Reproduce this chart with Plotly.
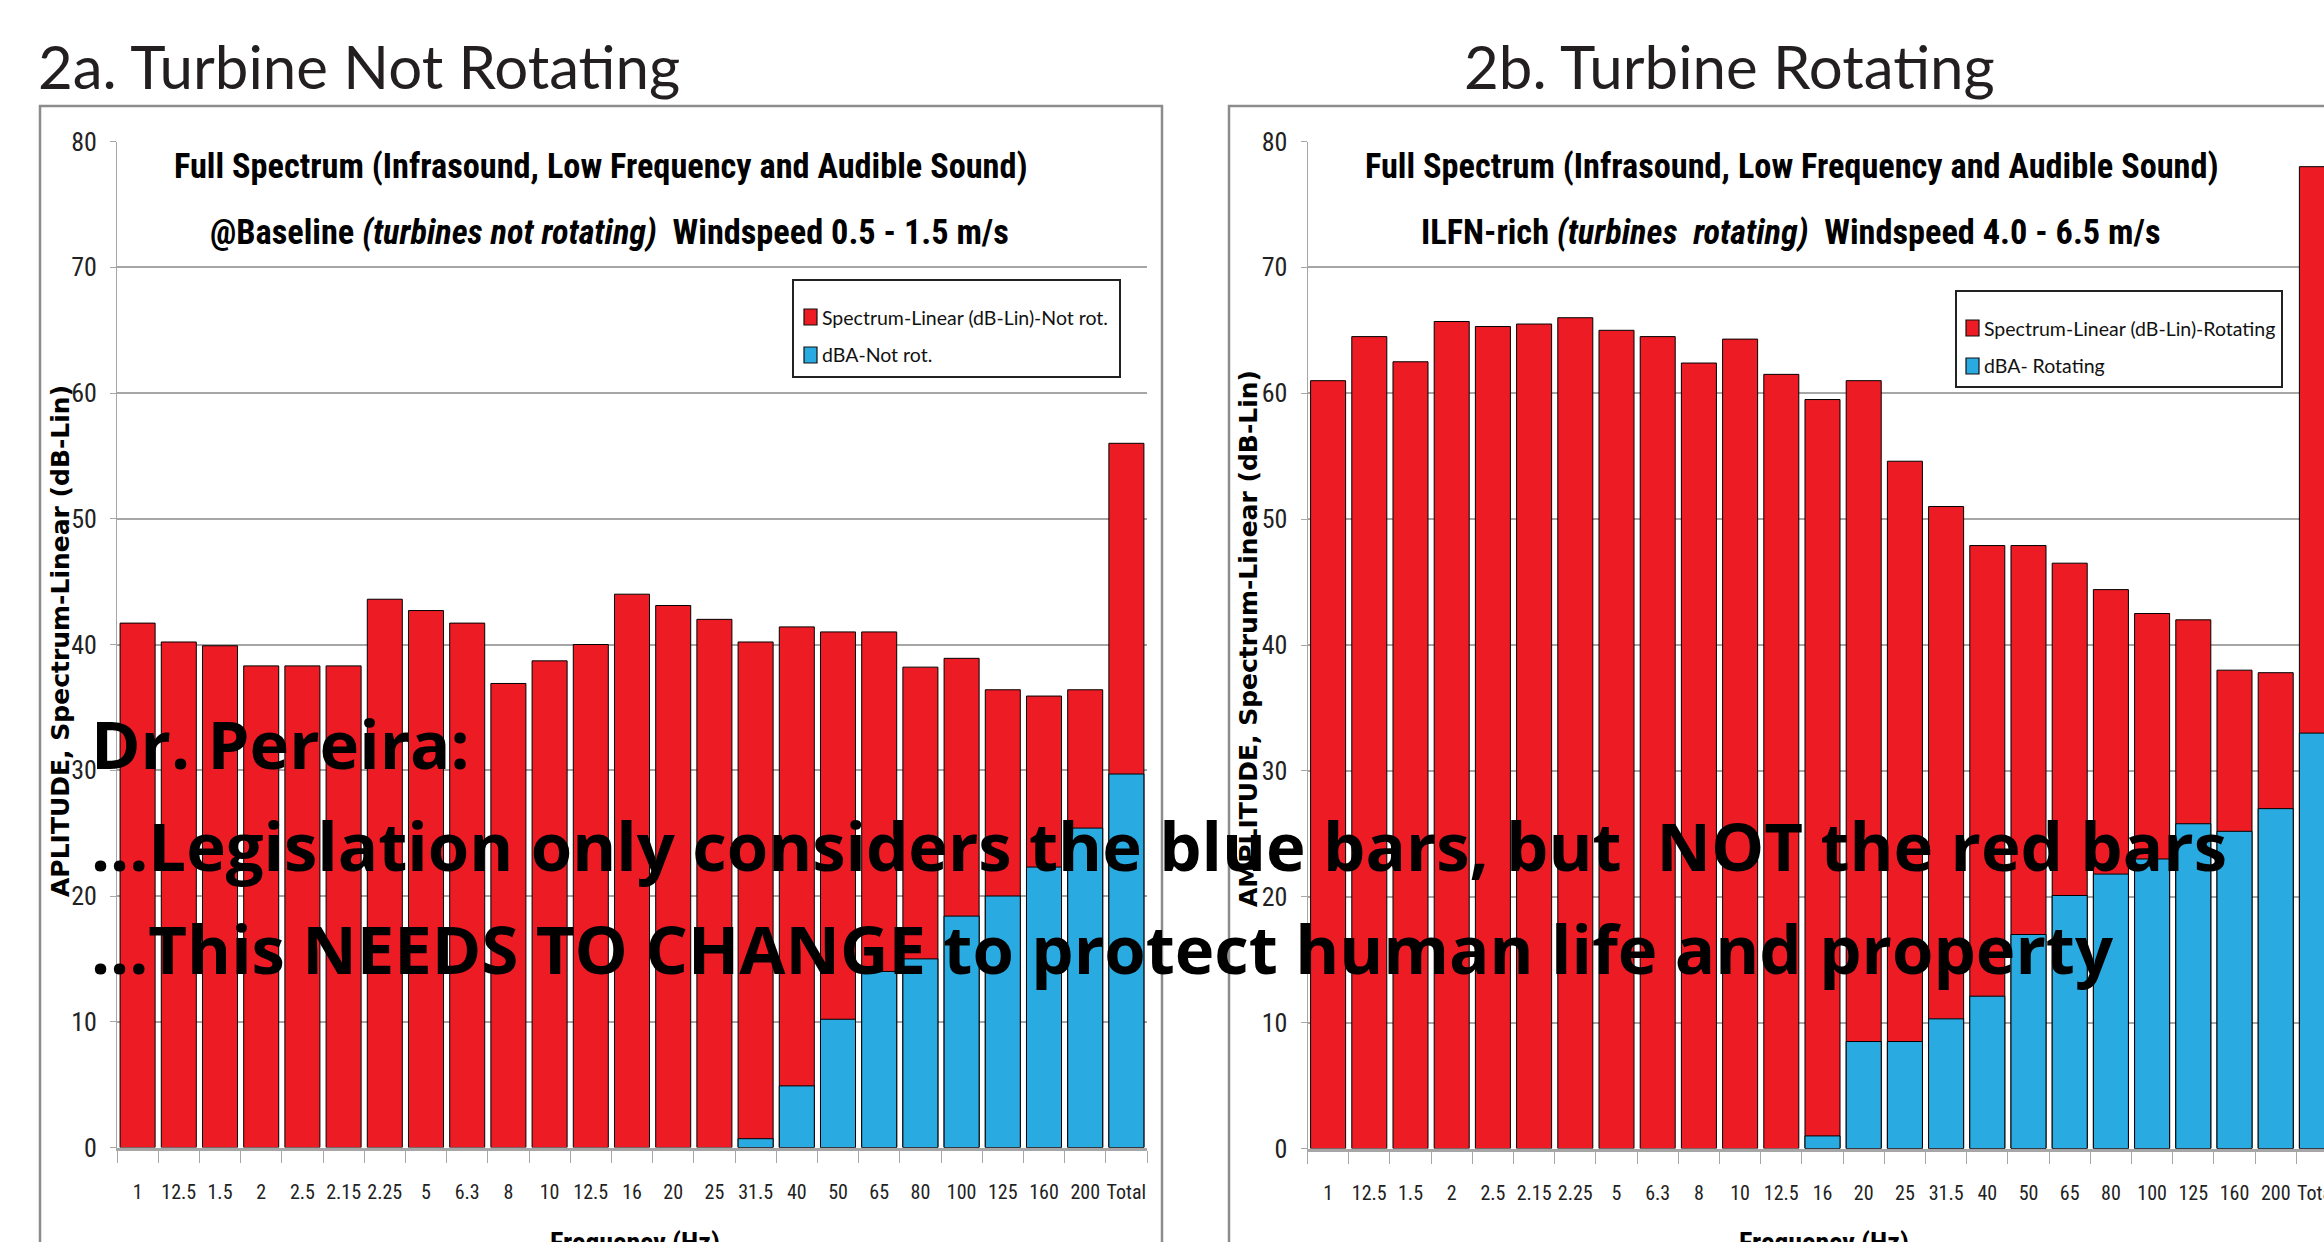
import plotly.graph_objects as go

W, H = 2324, 1242

# ---------------- data ----------------
freq_labels = ["1", "12.5", "1.5", "2", "2.5", "2.15", "2.25", "5", "6.3", "8", "10", "12.5",
               "16", "20", "25", "31.5", "40", "50", "65", "80", "100", "125", "160", "200", "Total"]

lin_not_rot = [41.7, 40.2, 39.9, 38.3, 38.3, 38.3, 43.6, 42.7, 41.7, 36.9, 38.7, 40.0,
               44.0, 43.1, 42.0, 40.2, 41.4, 41.0, 41.0, 38.2, 38.9, 36.4, 35.9, 36.4, 56.0]
dba_not_rot = [None, None, None, None, None, None, None, None, None, None, None, None,
               None, None, None, 0.7, 4.9, 10.2, 14.0, 15.0, 18.4, 20.0, 22.3, 25.4, 29.7]

lin_rot = [61.0, 64.5, 62.5, 65.7, 65.3, 65.5, 66.0, 65.0, 64.5, 62.4, 64.3, 61.5,
           59.5, 61.0, 54.6, 51.0, 47.9, 47.9, 46.5, 44.4, 42.5, 42.0, 38.0, 37.8, 78.0]
dba_rot = [None, None, None, None, None, None, None, None, None, None, None, None,
           1.0, 8.5, 8.5, 10.3, 12.1, 17.0, 20.1, 21.8, 23.0, 25.8, 25.2, 27.0, 33.0]

y_ticks = [0, 10, 20, 30, 40, 50, 60, 70, 80]

name_lin_a = "Spectrum-Linear (dB-Lin)-Not rot."
name_dba_a = "dBA-Not rot."
name_lin_b = "Spectrum-Linear (dB-Lin)-Rotating"
name_dba_b = "dBA- Rotating"

# ---------------- style ----------------
RED = "#ED1C24"
BLUE = "#29ABE2"
GRID = "#a6a6a6"
NARROW = "Liberation Sans Narrow, Roboto Condensed, DejaVu Sans Condensed, Lato, sans-serif"
CAL = "Lato, Carlito, Calibri, sans-serif"
BIG = "Open Sans, Noto Sans, Lato, sans-serif"
VERD = "DejaVu Sans, Verdana, sans-serif"


def X(px):
    return px / W


def Y(py):
    return 1 - py / H


idx = list(range(len(freq_labels)))

fig = go.Figure()
fig.add_bar(x=idx, y=lin_not_rot, name=name_lin_a,
            marker=dict(color=RED, line=dict(color="black", width=1)),
            xaxis="x", yaxis="y")
fig.add_bar(x=idx, y=dba_not_rot, name=name_dba_a,
            marker=dict(color=BLUE, line=dict(color="black", width=1)),
            xaxis="x", yaxis="y")
fig.add_bar(x=idx, y=lin_rot, name=name_lin_b,
            marker=dict(color=RED, line=dict(color="black", width=1)),
            xaxis="x2", yaxis="y2")
fig.add_bar(x=idx, y=dba_rot, name=name_dba_b,
            marker=dict(color=BLUE, line=dict(color="black", width=1)),
            xaxis="x2", yaxis="y2")

cell = 41.2  # px per category (layout only)
xr_right = [-0.5, -0.5 + (W - 1307.5) / cell]


def xaxis(domain, rng, anchor):
    return dict(domain=domain, range=rng, anchor=anchor, automargin=False,
                tickmode="array", tickvals=idx, ticktext=freq_labels,
                ticks="", ticklabelstandoff=24, ticklabeloverflow="allow",
                tickfont=dict(family=NARROW, size=20, color="#222"),
                showline=True, linecolor=GRID, linewidth=3,
                showgrid=False, zeroline=False,
                minor=dict(tickvals=[i - 0.5 for i in range(len(freq_labels) + 1)],
                           ticks="outside", ticklen=12, tickcolor=GRID, tickwidth=1,
                           showgrid=False))


def yaxis(domain, anchor):
    return dict(domain=domain, range=[0, 80], anchor=anchor, automargin=False,
                tickmode="array", tickvals=y_ticks,
                ticks="outside", ticklen=6, tickcolor=GRID, tickwidth=1,
                ticklabelstandoff=8,
                tickfont=dict(family=NARROW, size=26, color="#222"),
                showgrid=True, gridcolor=GRID, gridwidth=1.5,
                showline=True, linecolor=GRID, linewidth=1, zeroline=False)


shapes = [
    # outer frames
    dict(type="rect", xref="paper", yref="paper", x0=X(40), x1=X(1162), y0=Y(106), y1=Y(1400),
         line=dict(color="#8c8c8c", width=2.5), layer="below"),
    dict(type="rect", xref="paper", yref="paper", x0=X(1229), x1=X(2500), y0=Y(106), y1=Y(1400),
         line=dict(color="#8c8c8c", width=2.5), layer="below"),
    # title backgrounds hiding the top gridline
    dict(type="rect", xref="paper", yref="paper", x0=X(168), x1=X(1032), y0=Y(128), y1=Y(256),
         fillcolor="white", line=dict(width=0), layer="between"),
    dict(type="rect", xref="paper", yref="paper", x0=X(1359), x1=X(2224), y0=Y(128), y1=Y(256),
         fillcolor="white", line=dict(width=0), layer="between"),
    # legend boxes
    dict(type="rect", xref="paper", yref="paper", x0=X(793), x1=X(1120), y0=Y(280), y1=Y(377),
         fillcolor="white", line=dict(color="#222", width=2), layer="above"),
    dict(type="rect", xref="paper", yref="paper", x0=X(1956), x1=X(2282), y0=Y(291), y1=Y(387),
         fillcolor="white", line=dict(color="#222", width=2), layer="above"),
]

# legend swatches (layout positions) and labels
legend_items = [
    (804, 317, RED, name_lin_a),
    (804, 355, BLUE, name_dba_a),
    (1966, 328, RED, name_lin_b),
    (1966, 366, BLUE, name_dba_b),
]
TXT = "#231f20"
annotations = []
for lx, ly, col, nm in legend_items:
    shapes.append(dict(type="rect", xref="paper", yref="paper", x0=X(lx), x1=X(lx + 13),
                       y0=Y(ly - 8), y1=Y(ly + 8), fillcolor=col,
                       line=dict(color="#111", width=1.2), layer="above"))
    annotations.append(dict(text=nm, x=X(lx + 16), y=Y(ly), xanchor="left", yanchor="middle",
                            font=dict(family=CAL, size=19.5, color="#111")))

annotations += [
    dict(text="2a. Turbine Not Rotating", x=X(36), y=Y(66), xanchor="left", yanchor="middle",
         font=dict(family=CAL, size=60, color=TXT)),
    dict(text="2b. Turbine Rotating", x=X(1462), y=Y(66), xanchor="left", yanchor="middle",
         font=dict(family=CAL, size=60, color=TXT)),
    dict(text="Full Spectrum (Infrasound, Low Frequency and Audible Sound)", x=X(601), y=Y(166),
         xanchor="center", yanchor="middle", font=dict(family=NARROW, size=34.3, color="black", weight="bold")),
    dict(text="@Baseline <i>(turbines not rotating)</i>  Windspeed 0.5 - 1.5 m/s", x=X(609), y=Y(232),
         xanchor="center", yanchor="middle", font=dict(family=NARROW, size=34.3, color="black", weight="bold")),
    dict(text="Full Spectrum (Infrasound, Low Frequency and Audible Sound)", x=X(1792), y=Y(166),
         xanchor="center", yanchor="middle", font=dict(family=NARROW, size=34.3, color="black", weight="bold")),
    dict(text="ILFN-rich <i>(turbines  rotating)</i>  Windspeed 4.0 - 6.5 m/s", x=X(1791), y=Y(232),
         xanchor="center", yanchor="middle", font=dict(family=NARROW, size=34.3, color="black", weight="bold")),
    dict(text="APLITUDE, Spectrum-Linear (dB-Lin)", x=X(60), y=Y(641), textangle=-90,
         xanchor="center", yanchor="middle", font=dict(family=VERD, size=25, color="black", weight="bold")),
    dict(text="AMPLITUDE, Spectrum-Linear (dB-Lin)", x=X(1249), y=Y(639), textangle=-90,
         xanchor="center", yanchor="middle", font=dict(family=VERD, size=25, color="black", weight="bold")),
    dict(text="Frequency (Hz)", x=X(635), y=Y(1224), xanchor="center", yanchor="top",
         font=dict(family=NARROW, size=28, color="black", weight="bold")),
    dict(text="Frequency (Hz)", x=X(1824), y=Y(1224), xanchor="center", yanchor="top",
         font=dict(family=NARROW, size=28, color="black", weight="bold")),
    # overlay statement
    dict(text="Dr. Pereira:", x=X(89), y=Y(743), xanchor="left", yanchor="middle",
         font=dict(family=BIG, size=67, color="black", weight="bold")),
    dict(text="...Legislation only considers the blue bars, but  NOT the red bars", x=X(89), y=Y(845),
         xanchor="left", yanchor="middle", font=dict(family=BIG, size=67, color="black", weight="bold")),
    dict(text="...This NEEDS TO CHANGE to protect human life and property", x=X(89), y=Y(948),
         xanchor="left", yanchor="middle", font=dict(family=BIG, size=67, color="black", weight="bold")),
]
for a in annotations:
    a.setdefault("xref", "paper")
    a.setdefault("yref", "paper")
    a.setdefault("showarrow", False)

fig.update_layout(
    width=W, height=H, margin=dict(l=0, r=0, t=0, b=0, autoexpand=False),
    paper_bgcolor="white", plot_bgcolor="white",
    barmode="overlay", bargap=0.15, showlegend=False,
    xaxis=xaxis([X(117), X(1147)], [-0.5, 24.5], "y"),
    yaxis=yaxis([Y(1147.5), Y(141.5)], "x"),
    xaxis2=xaxis([X(1307.5), 1.0], xr_right, "y2"),
    yaxis2=yaxis([Y(1148.5), Y(141.5)], "x2"),
    shapes=shapes, annotations=annotations,
)

fig.write_html("out.html", config={"displayModeBar": False},
               post_script="document.body.style.margin='0';document.body.style.overflow='hidden';")
